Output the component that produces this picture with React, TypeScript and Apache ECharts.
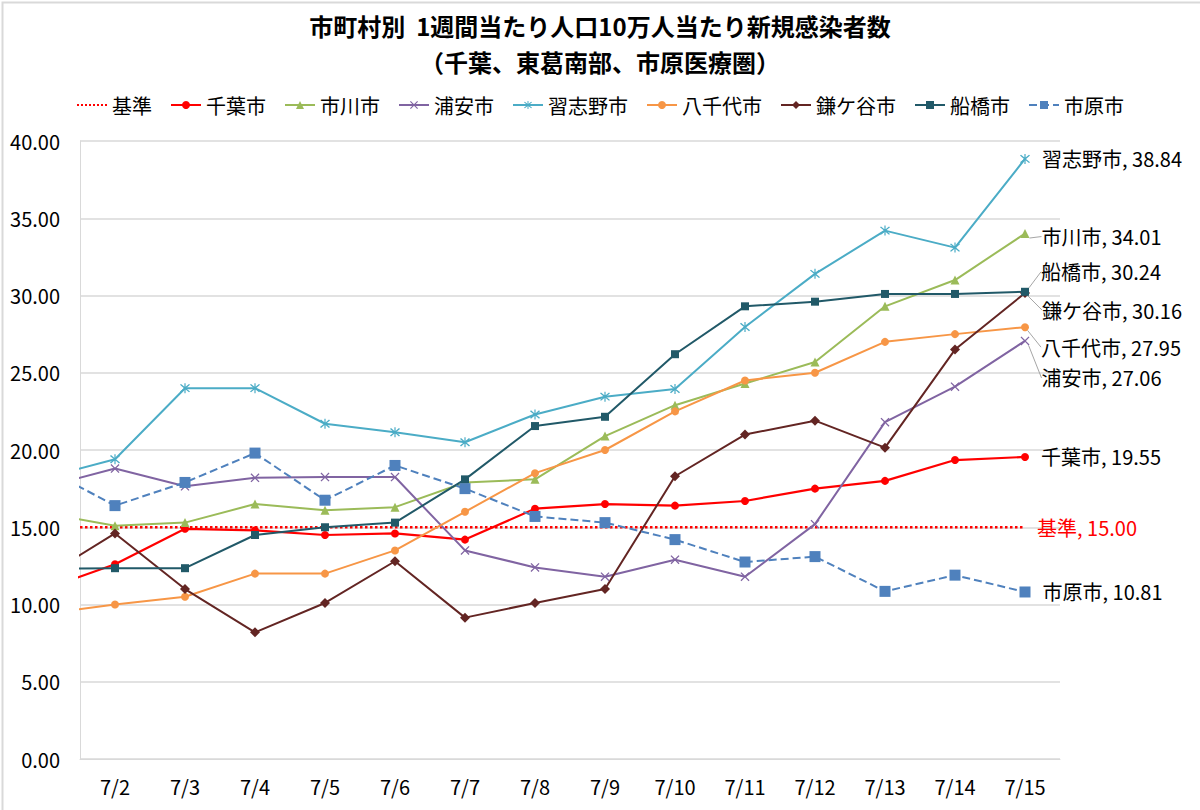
import React, { useEffect, useRef } from "react";
import * as echarts from "echarts";

const TITLE_1 = "市町村別  1週間当たり人口10万人当たり新規感染者数";
const TITLE_2 = "（千葉、東葛南部、市原医療圏）";
const DAYS = [1, 2, 3, 4, 5, 6, 7, 8, 9, 10, 11, 12, 13, 14, 15];
const TICK_DAYS = [2, 3, 4, 5, 6, 7, 8, 9, 10, 11, 12, 13, 14, 15];
const Y_TICKS_MAX = 40;

const kijun = [15, 15, 15, 15, 15, 15, 15, 15, 15, 15, 15, 15, 15, 15, 15];
const chiba = [11.0, 12.6, 14.9, 14.8, 14.5, 14.6, 14.2, 16.2, 16.5, 16.4, 16.7, 17.5, 18.0, 19.35, 19.55];
const ichikawa = [15.9, 15.1, 15.3, 16.5, 16.1, 16.3, 17.9, 18.1, 20.9, 22.9, 24.3, 25.7, 29.3, 31.0, 34.01];
const urayasu = [17.6, 18.8, 17.65, 18.2, 18.25, 18.25, 13.5, 12.4, 11.8, 12.9, 11.8, 15.2, 21.8, 24.1, 27.06];
const narashino = [18.2, 19.4, 24.0, 24.0, 21.7, 21.15, 20.5, 22.3, 23.45, 23.95, 27.96, 31.4, 34.2, 33.1, 38.84];
const yachiyo = [9.4, 10.0, 10.5, 12.0, 12.0, 13.5, 16.0, 18.5, 20.0, 22.5, 24.5, 25.0, 27.0, 27.5, 27.95];
const kamagaya = [11.8, 14.6, 11.0, 8.2, 10.1, 12.8, 9.15, 10.1, 11.0, 18.3, 21.0, 21.9, 20.15, 26.5, 30.16];
const funabashi = [12.3, 12.35, 12.35, 14.5, 15.0, 15.3, 18.1, 21.55, 22.15, 26.2, 29.3, 29.6, 30.1, 30.1, 30.24];
const ichihara = [18.8, 16.4, 17.9, 19.8, 16.75, 19.0, 17.5, 15.7, 15.3, 14.2, 12.75, 13.1, 10.85, 11.9, 10.81];

const FONT = "'Noto Sans CJK JP', 'Noto Sans', sans-serif";
const X_SYMBOL = "path://M0,1L1,0L5,4L9,0L10,1L6,5L10,9L9,10L5,6L1,10L0,9L4,5Z";
const STAR_SYMBOL =
  "path://M0,1L1,0L5,4L9,0L10,1L6,5L10,9L9,10L5,6L1,10L0,9L4,5Z M4.4,-1L5.6,-1L5.6,11L4.4,11Z";

type Cfg = {
  name: string;
  values: number[];
  color: string;
  symbol: string;
  symbolSize: number;
  lineType?: string;
  width?: number;
  dy?: number;
  guide?: boolean;
  labelColor?: string;
};

const SERIES: Cfg[] = [
  { name: "基準", values: kijun, color: "#ff0000", symbol: "none", symbolSize: 0, lineType: "dotted", width: 2.5, labelColor: "#ff0000" },
  { name: "千葉市", values: chiba, color: "#ff0000", symbol: "circle", symbolSize: 8, width: 2.2 },
  { name: "市川市", values: ichikawa, color: "#9bbb59", symbol: "triangle", symbolSize: 9, guide: true, dy: 3 },
  { name: "浦安市", values: urayasu, color: "#8064a2", symbol: X_SYMBOL, symbolSize: 9, guide: true, dy: 37 },
  { name: "習志野市", values: narashino, color: "#4bacc6", symbol: STAR_SYMBOL, symbolSize: 10 },
  { name: "八千代市", values: yachiyo, color: "#f79646", symbol: "circle", symbolSize: 8, guide: true, dy: 20 },
  { name: "鎌ケ谷市", values: kamagaya, color: "#632523", symbol: "diamond", symbolSize: 10, guide: true, dy: 17 },
  { name: "船橋市", values: funabashi, color: "#215968", symbol: "rect", symbolSize: 8, guide: true, dy: -20 },
  { name: "市原市", values: ichihara, color: "#4f81bd", symbol: "rect", symbolSize: 11, lineType: "dashed" },
];

export default function App() {
  const ref = useRef<HTMLDivElement>(null);
  useEffect(() => {
    document.body.style.margin = "0";
    const chart = echarts.init(ref.current!, null, { renderer: "svg" });
    const last = DAYS.length - 1;
    const fmt = (p: any) => `${p.seriesName}, ${Number(p.value[1]).toFixed(2)}`;
    const labelStyle = (s: Cfg) => ({
      fontSize: 20,
      fontFamily: FONT,
      color: s.labelColor ?? "#000",
      formatter: fmt,
    });
    const series = SERIES.map((s) => {
      const noSym = s.symbol === "none";
      return {
        name: s.name,
        type: "line",
        symbol: s.symbol,
        symbolSize: s.symbolSize,
        showSymbol: !noSym,
        clip: true,
        color: s.color,
        lineStyle: { color: s.color, width: s.width ?? 2, type: s.lineType ?? "solid" },
        itemStyle: { color: s.color },
        label: { show: false, position: "right", distance: 12, ...labelStyle(s) },
        endLabel: noSym ? { show: true, distance: 12, ...labelStyle(s) } : undefined,
        labelLayout: s.dy ? { dy: s.dy } : undefined,
        labelLine: s.guide ? { show: true, lineStyle: { color: "#a6a6a6", width: 1 } } : { show: false },
        emphasis: { disabled: true },
        data: DAYS.map((d, i) =>
          i === last && !noSym ? { value: [d, s.values[i]], label: { show: true } } : [d, s.values[i]]
        ),
      };
    });
    const titleStyle = { fontSize: 24, lineHeight: 24, fontWeight: "bold", color: "#000", fontFamily: FONT };
    chart.setOption({
      animation: false,
      backgroundColor: "#fff",
      textStyle: { fontFamily: FONT },
      title: [
        { text: TITLE_1, left: "center", top: 13, padding: 0, textStyle: titleStyle },
        { text: TITLE_2, left: "center", top: 49, padding: 0, textStyle: titleStyle },
      ],
      legend: {
        top: 90,
        left: "center",
        itemWidth: 30,
        itemHeight: 10,
        itemGap: 18,
        textStyle: { fontSize: 20, color: "#000", fontFamily: FONT },
        data: SERIES.map((s) =>
          s.symbol === "none" ? { name: s.name, itemStyle: { opacity: 0 } } : s.name
        ),
      },
      grid: { left: 80, right: 140, top: 141, bottom: 51 },
      xAxis: {
        type: "value",
        min: 1.5,
        max: 15.5,
        axisLine: { show: true, lineStyle: { color: "#d9d9d9", width: 1 } },
        axisTick: { show: false },
        splitLine: { show: false },
        axisLabel: {
          customValues: TICK_DAYS,
          formatter: (v: number) => `7/${v}`,
          fontSize: 20,
          color: "#000",
          margin: 17,
          fontFamily: FONT,
        },
      },
      yAxis: {
        type: "value",
        min: 0,
        max: Y_TICKS_MAX,
        interval: 5,
        axisLine: { show: true, lineStyle: { color: "#d9d9d9", width: 1 } },
        axisTick: { show: false },
        splitLine: { show: true, lineStyle: { color: "#d9d9d9", width: 1.5 } },
        axisLabel: {
          formatter: (v: number) => v.toFixed(2),
          fontSize: 20,
          color: "#000",
          margin: 20,
          fontFamily: FONT,
        },
      },
      graphic: [
        {
          type: "rect",
          left: 0,
          top: 0,
          shape: { width: 1199, height: 809 },
          style: { fill: "none", stroke: "#d9d9d9", lineWidth: 2 },
          silent: true,
        },
      ],
      series,
    });
    return () => chart.dispose();
  }, []);
  return <div ref={ref} style={{ width: 1200, height: 810 }} />;
}
